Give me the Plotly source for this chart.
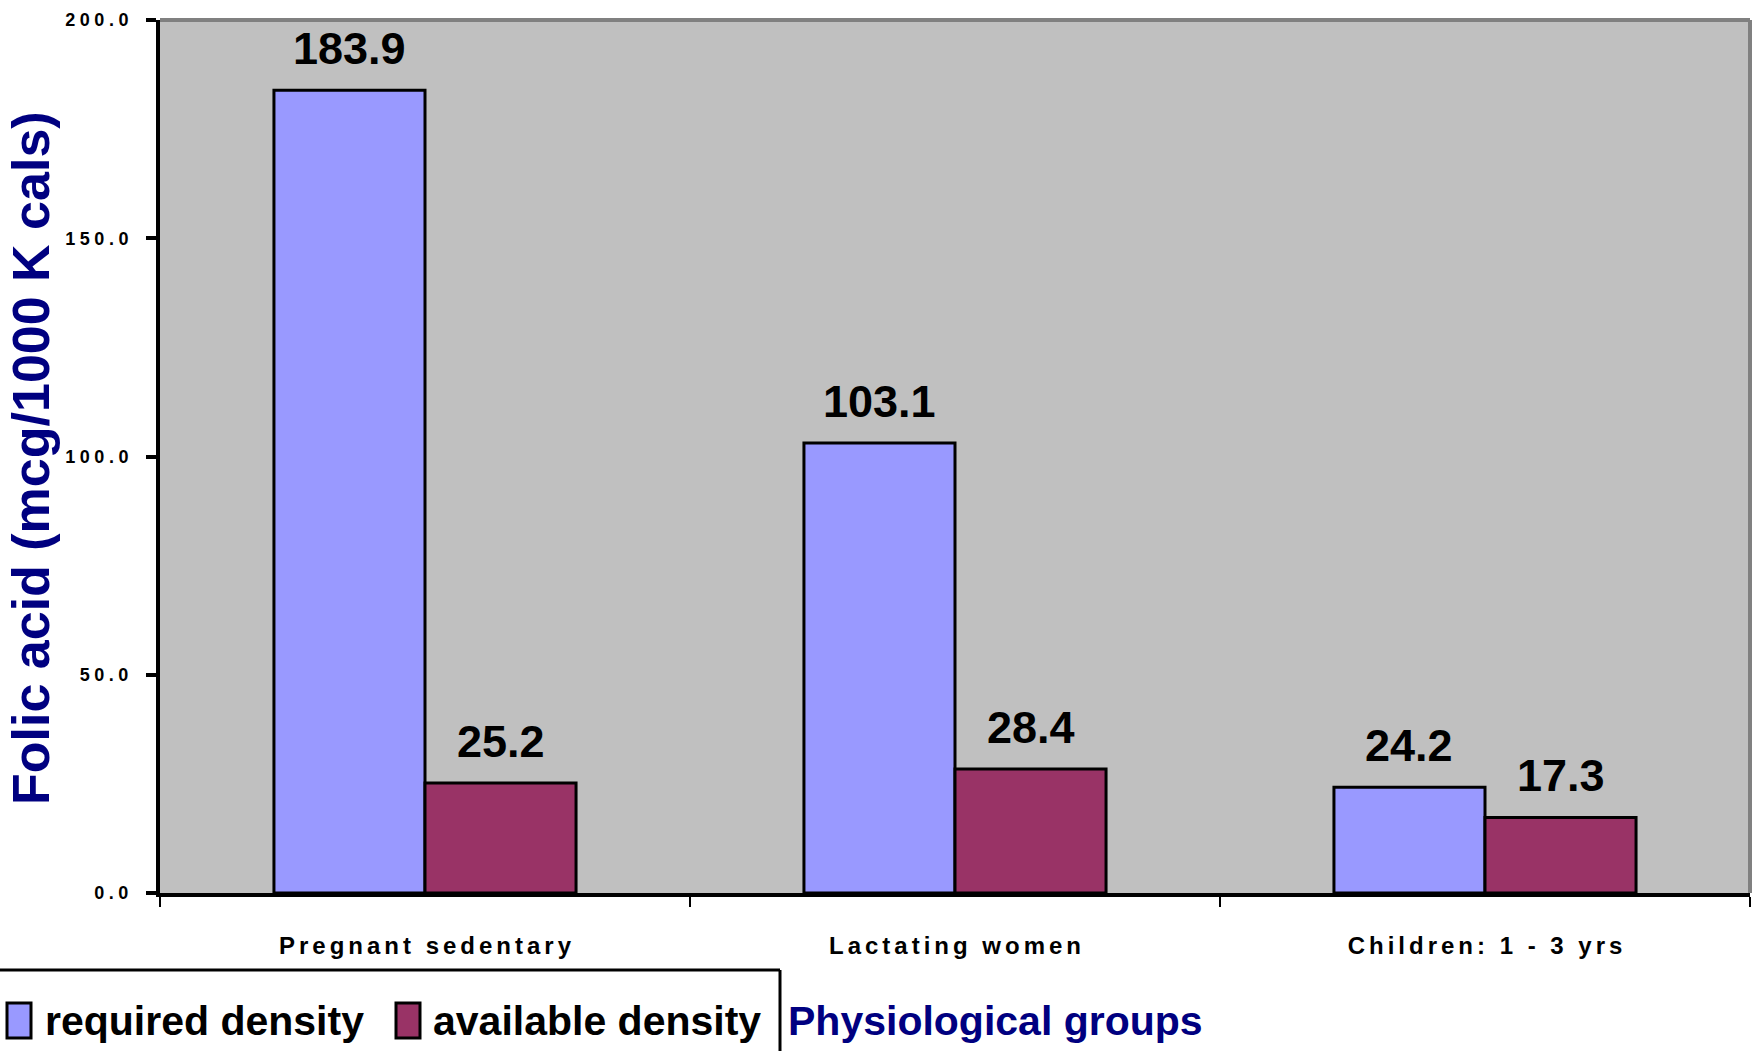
import plotly.graph_objects as go

# Folic acid density by physiological group
categories = ["Pregnant sedentary", "Lactating women", "Children: 1 - 3 yrs"]
required_density = [183.9, 103.1, 24.2]
available_density = [25.2, 28.4, 17.3]
series_names = ["required density", "available density"]
y_tick_values = [0, 50, 100, 150, 200]

W, H = 1756, 1051
L, R, T, B = 160, 6, 20, 158
PW, PH = W - L - R, H - T - B

NAVY = "#000080"
REQ_COLOR = "#9999FF"
AVA_COLOR = "#993366"
FONT = "Liberation Sans, Arial, sans-serif"


def spaced(text, gap):
    return gap.join(text)


def px(x):
    return (x - L) / PW


def py(y):
    return (H - B - y) / PH


x_labels = [spaced(c, "\u2006") for c in categories]
y_tick_text = [spaced(f"{v:.1f}", "\u2005") for v in y_tick_values]

fig = go.Figure()
for name, vals, color in [
    (series_names[0], required_density, REQ_COLOR),
    (series_names[1], available_density, AVA_COLOR),
]:
    fig.add_trace(go.Bar(
        name=name, x=x_labels, y=vals,
        marker=dict(color=color, line=dict(color="black", width=3)),
        showlegend=False,
    ))

BARGAP = 0.43
half = (1 - BARGAP) / 4  # centre offset of each bar within its group

annotations = []
for i in range(len(categories)):
    for off, vals in [(-half, required_density), (half, available_density)]:
        annotations.append(dict(
            x=i + off, y=vals[i], xref="x", yref="y",
            text=f"{vals[i]:.1f}", showarrow=False,
            yanchor="bottom", xanchor="center", yshift=14,
            font=dict(family=FONT, size=45, color="black", weight="bold"),
        ))

# axis titles
annotations.append(dict(
    x=px(31), y=py(458), xref="paper", yref="paper",
    text="Folic acid (mcg/1000 K cals)", textangle=-90, showarrow=False,
    xanchor="center", yanchor="middle",
    font=dict(family=FONT, size=52, color=NAVY, weight="bold"),
))
annotations.append(dict(
    x=px(786), y=py(1021), xref="paper", yref="paper",
    text="Physiological groups", showarrow=False,
    xanchor="left", yanchor="middle",
    font=dict(family=FONT, size=41, color=NAVY, weight="bold"),
))

# legend entries
legend_items = [(series_names[0], REQ_COLOR, 7, 43), (series_names[1], AVA_COLOR, 396, 431)]
shapes = []
for name, color, sx, tx in legend_items:
    shapes.append(dict(
        type="rect", xref="paper", yref="paper",
        x0=px(sx), x1=px(sx + 24), y0=py(1038), y1=py(1003),
        fillcolor=color, line=dict(color="black", width=3),
    ))
    annotations.append(dict(
        x=px(tx), y=py(1021), xref="paper", yref="paper",
        text=name, showarrow=False, xanchor="left", yanchor="middle",
        font=dict(family=FONT, size=41, color="black", weight="bold"),
    ))

# legend frame
shapes.append(dict(type="line", xref="paper", yref="paper",
                   x0=px(-5), x1=px(780), y0=py(970), y1=py(970),
                   line=dict(color="black", width=3)))
shapes.append(dict(type="line", xref="paper", yref="paper",
                   x0=px(780), x1=px(780), y0=py(970), y1=py(1060),
                   line=dict(color="black", width=3)))
# grey top/right plot border
shapes.append(dict(type="line", xref="paper", yref="paper",
                   x0=0, x1=1, y0=1, y1=1, line=dict(color="#808080", width=4)))
shapes.append(dict(type="line", xref="paper", yref="paper",
                   x0=1, x1=1, y0=0, y1=1, line=dict(color="#808080", width=4)))

fig.update_layout(
    width=W, height=H,
    margin=dict(l=L, r=R, t=T, b=B, autoexpand=False),
    paper_bgcolor="white", plot_bgcolor="#C0C0C0",
    barmode="group", bargap=BARGAP, bargroupgap=0,
    annotations=annotations, shapes=shapes,
    xaxis=dict(
        type="category", showgrid=False, zeroline=False,
        showline=True, linecolor="black", linewidth=4,
        ticks="outside", tickson="boundaries", ticklen=10, tickwidth=2, tickcolor="black",
        ticklabelstandoff=28,
        tickfont=dict(family=FONT, size=24, color="black", weight="bold"),
    ),
    yaxis=dict(
        range=[0, 200], showgrid=False, zeroline=False,
        showline=True, linecolor="black", linewidth=4,
        tickmode="array", tickvals=y_tick_values, ticktext=y_tick_text,
        ticks="outside", ticklen=10, tickwidth=4, tickcolor="black",
        ticklabelstandoff=14,
        tickfont=dict(family=FONT, size=18, color="black", weight="bold"),
    ),
)

fig.write_html("out.html")
